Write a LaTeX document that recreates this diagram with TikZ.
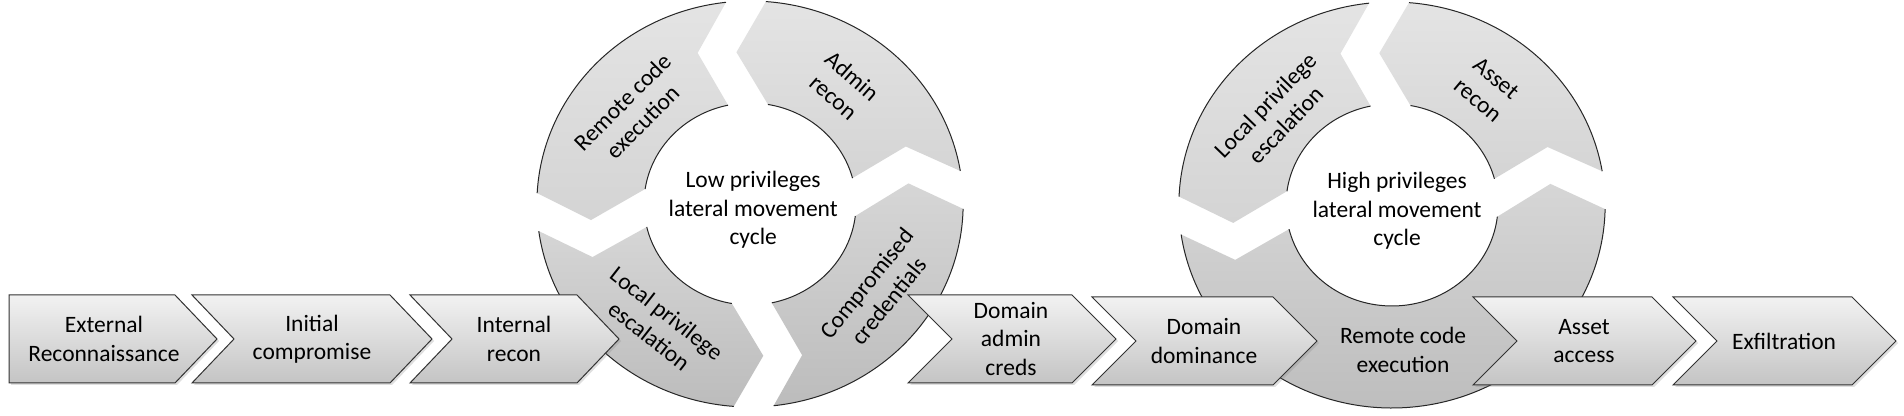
\documentclass[tikz,border=0pt]{standalone}
\usepackage{fontspec}
\setmainfont{Carlito}
\usetikzlibrary{shadows}
\definecolor{chevtop}{RGB}{242,242,242}
\definecolor{chevbot}{RGB}{196,196,196}
\definecolor{ringtopA}{RGB}{228,228,228}
\definecolor{ringtopB}{RGB}{212,212,212}
\definecolor{ringbotA}{RGB}{214,214,214}
\definecolor{ringbotB}{RGB}{188,188,188}
\tikzset{
  lbl/.style={align=center, inner sep=0pt, text=black,
    font=\fontsize{11.75pt}{14.25pt}\selectfont},
  ringedge/.style={draw=black!85, line width=0.5pt},
  chevron/.style={draw=black!80, line width=0.5pt, top color=chevtop, bottom color=chevbot,
    drop shadow={opacity=0.25, shadow xshift=1pt, shadow yshift=-1pt}}
}
% ring segment: #1 start angle, #2 end angle, #3 top colour, #4 bottom colour
\newcommand{\RingSeg}[4]{%
  \pgfmathsetmacro{\RSais}{#1+asin(19/101)}%
  \pgfmathsetmacro{\RSaos}{#1+asin(19/203)}%
  \pgfmathsetmacro{\RSaoe}{#2-asin(19/203)}%
  \pgfmathsetmacro{\RSaie}{#2-asin(19/101)}%
  \pgfmathsetmacro{\RSnx}{152*cos(#1)-47*sin(#1)}%
  \pgfmathsetmacro{\RSny}{152*sin(#1)+47*cos(#1)}%
  \pgfmathsetmacro{\RStx}{152*cos(#2)-10*sin(#2)}%
  \pgfmathsetmacro{\RSty}{152*sin(#2)+10*cos(#2)}%
  \shade[top color=#3, bottom color=#4] (\RSais:101) -- (\RSnx,\RSny) -- (\RSaos:203)
    arc[start angle=\RSaos, end angle=\RSaoe, radius=203] -- (\RStx,\RSty) -- (\RSaie:101)
    arc[start angle=\RSaie, end angle=\RSais, radius=101] -- cycle;
  \draw[ringedge] (\RSaos:203) arc[start angle=\RSaos, end angle=\RSaoe, radius=203];
  \draw[ringedge] (\RSaie:101) arc[start angle=\RSaie, end angle=\RSais, radius=101];
}
% chevron: #1 left, #2 right, #3 top, #4 bottom, #5 tip depth, #6 notch depth
\newcommand{\Chev}[6]{%
  \pgfmathsetmacro{\CHm}{(#3+#4)/2}%
  \path[chevron] (#1,#3) -- (#2,#3) -- (#2+#5,\CHm) -- (#2,#4) -- (#1,#4) -- (#1+#6,\CHm) -- cycle;
}
\begin{document}
\begin{tikzpicture}[x=0.5pt, y=0.5pt]
\useasboundingbox (0,0) rectangle (1904,416);
\fill[white] (0,0) rectangle (1904,416);

% ---------- ring 1 ----------
\begin{scope}[shift={(750,212)}, xscale=1.05]
  \RingSeg{182.3}{271}{ringbotA}{ringbotB}
  \RingSeg{271}{364}{ringbotA}{ringbotB}
  \RingSeg{4}{91.1}{ringtopA}{ringtopB}
  \RingSeg{91.1}{182.3}{ringtopA}{ringtopB}
  \node[lbl, rotate=45] (r1rce) at (140.6:145) {Remote code\\execution};
  \node[lbl, rotate=-41] (r1ar) at (53:147) {Admin\\recon};
  \node[lbl, rotate=51] (r1cc) at (-36:150) {Compromised\\credentials};
  \node[lbl, rotate=-38] (r1lpe) at (234:149) {Local privilege\\escalation};
  \node[lbl] (r1c) at (3,-6) {Low privileges\\lateral movement\\cycle};
\end{scope}

% ---------- ring 2 ----------
\begin{scope}[shift={(1392,211)}, xscale=1.05]
  \RingSeg{183}{364.2}{ringbotA}{ringbotB}
  \RingSeg{4.2}{90.8}{ringtopA}{ringtopB}
  \RingSeg{90.8}{183}{ringtopA}{ringtopB}
  \node[lbl, rotate=46] (r2lpe) at (141:143) {Local privilege\\escalation};
  \node[lbl, rotate=-40] (r2ar) at (52:147) {Asset\\recon};
  \node[lbl] (r2rce) at (10.5,-145) {Remote code\\execution};
  \node[lbl] (r2c) at (4.8,-6) {High privileges\\lateral movement\\cycle};
\end{scope}

% ---------- chevrons ----------
\Chev{9}{175}{121}{33}{42}{0}
\node[lbl] (c1) at (104,77) {External\\Reconnaissance};
\Chev{192}{390}{121}{33}{42}{42}
\node[lbl] (c2) at (312,77) {Initial\\compromise};
\Chev{410}{577}{121}{33}{42}{42}
\node[lbl] (c3) at (514,77) {Internal\\recon};
\Chev{908}{1072}{121}{33}{44}{44}
\node[lbl] (c4) at (1011,77) {Domain\\admin\\creds};
\Chev{1092}{1273}{119}{31}{44}{44}
\node[lbl] (c5) at (1204,75) {Domain\\dominance};
\Chev{1473}{1652}{119}{31}{44}{44}
\node[lbl] (c6) at (1584,75) {Asset\\access};
\Chev{1673}{1852}{119}{31}{44}{44}
\node[lbl] (c7) at (1784,75) {Exfiltration};
\end{tikzpicture}
\end{document}
